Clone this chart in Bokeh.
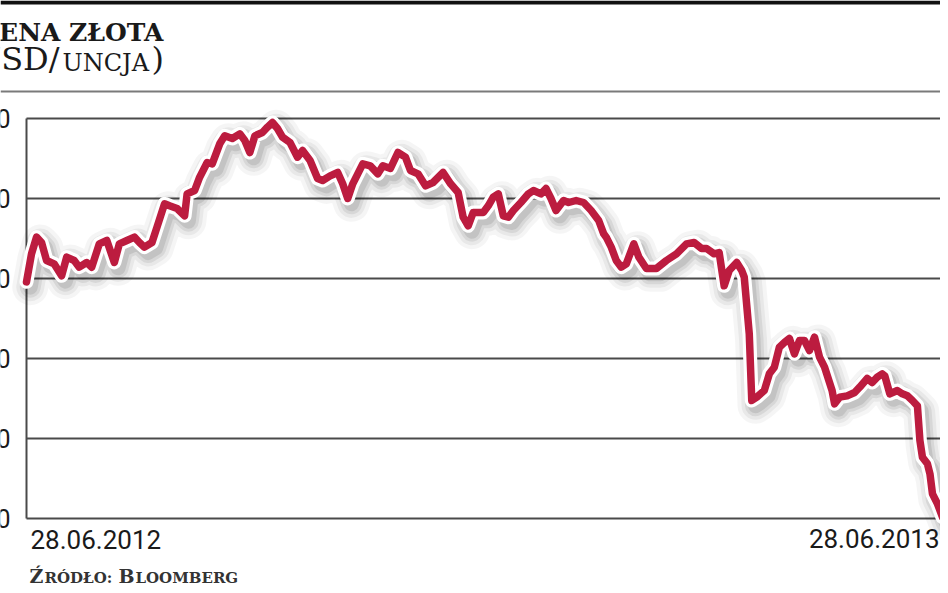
import pandas as pd
from bokeh.plotting import figure
from bokeh.models import ColumnDataSource, Range1d, Label, BoxAnnotation
from bokeh.transform import dodge
from bokeh.core.properties import value
from bokeh.embed import file_html
from bokeh.resources import INLINE

# ---------------- data ----------------
start_date = "2012-06-28"
end_date = "2013-06-28"

# day offsets from 28.06.2012
days = [0, 2, 4, 6, 8, 11, 14, 16, 19, 21, 24, 26, 29, 32, 35, 37, 40, 43, 45, 47,
        50, 52, 55, 57, 60, 63, 64, 67, 69, 72, 74, 77, 79, 82, 85, 87, 89, 91, 94, 96,
        98, 100, 102, 105, 108, 110, 113, 116, 118, 121, 124, 126, 128, 130, 132, 134,
        137, 140, 142, 145, 148, 151, 153, 156, 159, 162, 166, 169, 172, 174, 176, 178,
        182, 184, 186, 188, 190, 192, 194, 197, 200, 202, 205, 207, 209, 211, 214, 216,
        219, 222, 225, 228, 230, 231, 233, 235, 237, 239, 242, 244, 247, 251, 255, 259,
        263, 266, 269, 271, 274, 276, 278, 280, 283, 285, 286, 288, 289, 291, 294, 296,
        298, 300, 302, 304, 306, 308, 310, 312, 314, 316, 318, 321, 322, 324, 327, 330,
        332, 335, 337, 339, 341, 342, 344, 347, 349, 351, 353, 355, 356, 357, 359, 360,
        361, 363, 365]

# gold price, USD per ounce
price = [1555, 1597, 1622, 1614, 1587, 1582, 1564, 1592, 1587, 1577, 1584, 1577, 1612,
         1617, 1584, 1612, 1617, 1622, 1614, 1607, 1614, 1637, 1672, 1669, 1665, 1654,
         1687, 1692, 1712, 1734, 1732, 1762, 1774, 1770, 1777, 1767, 1749, 1774, 1779,
         1787, 1794, 1785, 1772, 1764, 1742, 1752, 1737, 1710, 1707, 1714, 1719, 1702,
         1680, 1702, 1717, 1732, 1729, 1717, 1729, 1725, 1749, 1742, 1722, 1717, 1699,
         1704, 1719, 1702, 1689, 1652, 1639, 1659, 1659, 1669, 1682, 1687, 1654, 1652,
         1662, 1674, 1687, 1692, 1687, 1695, 1680, 1662, 1677, 1674, 1677, 1674, 1662,
         1647, 1627, 1622, 1607, 1587, 1577, 1582, 1612, 1592, 1575, 1575, 1587, 1597,
         1612, 1614, 1605, 1605, 1597, 1599, 1549, 1572, 1584, 1572, 1562, 1477, 1377,
         1382, 1392, 1417, 1427, 1457, 1464, 1470, 1447, 1467, 1467, 1452, 1472, 1442,
         1427, 1392, 1372, 1382, 1384, 1389, 1397, 1410, 1404, 1412, 1417, 1414, 1387,
         1392, 1387, 1384, 1377, 1369, 1317, 1292, 1282, 1267, 1237, 1222, 1202]

y_ticks = [1200, 1320, 1440, 1560, 1680, 1800]
y_tick_labels = ["1200", "1320", "1440", "1560", "1680", "1800"]
date_labels = ["28.06.2012", "28.06.2013"]

title = "CENA ZŁOTA"
unit_parts = ["(USD/", "UNCJA", ")"]
source_parts = ["Ź", "RÓDŁO:", "B", "LOOMBERG"]

# ---------------- layout ----------------
W, H = 940, 585
PL, PR, PT, PB = 26, 942, 118, 518   # plot area in figure pixels

t0 = pd.Timestamp(start_date)
t1 = pd.Timestamp(end_date)
dates = t0 + pd.to_timedelta(days, unit="D")

mpp = (t1 - t0) / (PR - PL)
x_range = Range1d((t0 - PL * mpp).to_pydatetime(), (t1 + (W - PR) * mpp).to_pydatetime())
upp = (y_ticks[-1] - y_ticks[0]) / (PB - PT)
y_range = Range1d(y_ticks[0] - (H - PB) * upp, y_ticks[-1] + PT * upp)

p = figure(width=W, height=H, x_range=x_range, y_range=y_range,
           x_axis_type=None, y_axis_type=None, toolbar_location=None,
           output_backend="svg", min_border=0, outline_line_color=None,
           background_fill_color="white", border_fill_color="white")

# top rules
p.add_layout(BoxAnnotation(top=H, bottom=H - 4, top_units="screen", bottom_units="screen",
                           fill_color="#111111", fill_alpha=1, line_color=None))
p.add_layout(BoxAnnotation(top=H - 90, bottom=H - 92, top_units="screen", bottom_units="screen",
                           fill_color="#7a7a7a", fill_alpha=1, line_color=None))

# grid lines and left axis line
GRID = "#4a4a4a"
p.segment(x0=[t0] * len(y_ticks), x1=[t1] * len(y_ticks), y0=y_ticks, y1=y_ticks,
          line_color=GRID, line_width=2)
p.segment(x0=[t0], x1=[t0], y0=[y_ticks[0]], y1=[y_ticks[-1]], line_color=GRID, line_width=2)

NUMFONT = value("Roboto")
# y tick labels (cropped at the left edge, as in the original)
p.text(x=[t0] * len(y_ticks), y=y_ticks, text=y_tick_labels, x_offset=-16,
       text_align="right", text_baseline="middle", text_font=NUMFONT,
       text_font_size="25px", text_color="#1a1a1a")

# date labels
p.text(x=[t0], y=[y_ticks[0]], text=[date_labels[0]], x_offset=4, y_offset=21,
       text_align="left", text_baseline="middle", text_font=NUMFONT,
       text_font_size="26px", text_color="#1a1a1a")
p.text(x=[t1], y=[y_ticks[0]], text=[date_labels[1]], x_offset=-3, y_offset=20,
       text_align="right", text_baseline="middle", text_font=NUMFONT,
       text_font_size="26px", text_color="#1a1a1a")

# price line with halo and soft shadow
src = ColumnDataSource(dict(date=dates, price=price))
day_ms = 86400000
for w, a in [(36, 0.04), (28, 0.05), (21, 0.07), (15, 0.09)]:
    p.line(x=dodge("date", 1.5 * day_ms), y=dodge("price", -8), source=src,
           line_color="black", line_alpha=a, line_width=w, line_join="round", line_cap="round")
p.line(x="date", y="price", source=src, line_color="white", line_width=14,
       line_join="round", line_cap="round")
p.line(x="date", y="price", source=src, line_color="#BC1C3F", line_width=7.5,
       line_join="round", line_cap="round")

# titles (vertical positions are the centres of the capitals)
TXT = "#1a1a1a"
SERIF = "DejaVu Serif"
def label(txt, x, y, size, align="left", bold=False, color=TXT):
    p.add_layout(Label(x=x, y=H - y, x_units="screen", y_units="screen", text=txt,
                       text_align=align, text_baseline="middle",
                       text_font=SERIF, text_font_style="bold" if bold else "normal",
                       text_font_size=size, text_color=color))

label(title, 163, 31.5, "25px", align="right", bold=True)
label(unit_parts[0], 59, 58.5, "32px", align="right")
label(unit_parts[1], 62, 62, "24px")
label(unit_parts[2], 151, 58.5, "32px")

# source line
SRC = "#333333"
for txt, x, y, size in zip(source_parts, [29, 44, 118, 135], [575.5, 577, 575.5, 577],
                           ["19px", "15px", "19px", "15px"]):
    label(txt, x, y, size, bold=True, color=SRC)

open("out.html", "w").write(file_html(p, INLINE))
